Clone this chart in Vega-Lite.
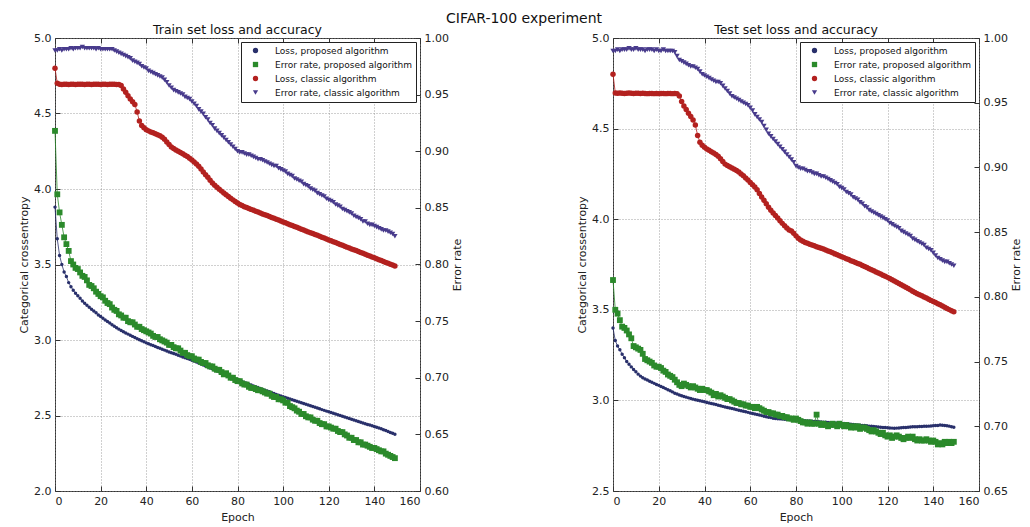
{
"$schema": "https://vega.github.io/schema/vega-lite/v6.json",
"autosize": {"type": "pad"},
"padding": {"left": 18, "top": 12, "right": 0, "bottom": 0},
"background": "white",
"title": {"text": "CIFAR-100 experiment", "fontSize": 14, "fontWeight": "normal", "anchor": "middle", "offset": -3, "dx": 4, "color": "#111"},
"config": {
  "font": "DejaVu Sans",
  "view": {"stroke": "#333", "strokeWidth": 1},
  "axis": {"domain": false, "tickSize": -5, "tickColor": "#333", "labelFontSize": 11, "labelColor": "#222", "titleFontSize": 11, "titleFontWeight": "normal", "titleColor": "#222", "gridColor": "#888", "gridDash": [1, 2], "gridWidth": 0.8, "labelPadding": 9},
  "title": {"fontSize": 12.5, "fontWeight": "normal", "offset": -4, "color": "#111"},
  "legend": {"orient": "top-right", "offset": 4, "padding": 4, "strokeColor": "#222", "fillColor": "white", "labelFontSize": 9, "rowPadding": 4, "symbolSize": 28, "symbolStrokeWidth": 0, "labelLimit": 300, "cornerRadius": 0, "labelColor": "#111", "symbolOffset": 6, "labelOffset": 15}
},
"datasets": {
"train": [
{"t":0,"lp":3.88,"ep":0.918,"lc":4.80,"ec":0.989},
{"t":1,"lp":3.67,"ep":0.862,"lc":4.70,"ec":0.989},
{"t":2,"lp":3.56,"ep":0.846,"lc":4.694,"ec":0.990},
{"t":3,"lp":3.50,"ep":0.835,"lc":4.692,"ec":0.989},
{"t":4,"lp":3.45,"ep":0.824,"lc":4.693,"ec":0.990},
{"t":5,"lp":3.42,"ep":0.818,"lc":4.693,"ec":0.990},
{"t":6,"lp":3.38,"ep":0.812,"lc":4.692,"ec":0.990},
{"t":7,"lp":3.353,"ep":0.803,"lc":4.694,"ec":0.991},
{"t":8,"lp":3.33,"ep":0.800,"lc":4.693,"ec":0.990},
{"t":9,"lp":3.31,"ep":0.797,"lc":4.692,"ec":0.991},
{"t":10,"lp":3.293,"ep":0.796,"lc":4.693,"ec":0.991},
{"t":11,"lp":3.277,"ep":0.793,"lc":4.693,"ec":0.991},
{"t":12,"lp":3.258,"ep":0.790,"lc":4.694,"ec":0.992},
{"t":13,"lp":3.243,"ep":0.789,"lc":4.692,"ec":0.991},
{"t":14,"lp":3.230,"ep":0.786,"lc":4.693,"ec":0.991},
{"t":15,"lp":3.217,"ep":0.782,"lc":4.693,"ec":0.991},
{"t":16,"lp":3.204,"ep":0.781,"lc":4.692,"ec":0.991},
{"t":17,"lp":3.192,"ep":0.779,"lc":4.693,"ec":0.991},
{"t":18,"lp":3.180,"ep":0.776,"lc":4.694,"ec":0.990},
{"t":19,"lp":3.166,"ep":0.774,"lc":4.693,"ec":0.991},
{"t":20,"lp":3.155,"ep":0.772,"lc":4.692,"ec":0.990},
{"t":21,"lp":3.144,"ep":0.771,"lc":4.693,"ec":0.990},
{"t":22,"lp":3.133,"ep":0.768,"lc":4.693,"ec":0.990},
{"t":23,"lp":3.122,"ep":0.766,"lc":4.692,"ec":0.990},
{"t":24,"lp":3.112,"ep":0.765,"lc":4.693,"ec":0.990},
{"t":25,"lp":3.101,"ep":0.762,"lc":4.694,"ec":0.990},
{"t":26,"lp":3.091,"ep":0.760,"lc":4.693,"ec":0.989},
{"t":27,"lp":3.081,"ep":0.759,"lc":4.692,"ec":0.988},
{"t":28,"lp":3.072,"ep":0.756,"lc":4.692,"ec":0.987},
{"t":29,"lp":3.063,"ep":0.755,"lc":4.685,"ec":0.986},
{"t":30,"lp":3.055,"ep":0.753,"lc":4.662,"ec":0.985},
{"t":31,"lp":3.047,"ep":0.753,"lc":4.640,"ec":0.984},
{"t":32,"lp":3.039,"ep":0.750,"lc":4.618,"ec":0.983},
{"t":33,"lp":3.031,"ep":0.749,"lc":4.596,"ec":0.982},
{"t":34,"lp":3.024,"ep":0.749,"lc":4.578,"ec":0.980},
{"t":35,"lp":3.016,"ep":0.747,"lc":4.560,"ec":0.979},
{"t":36,"lp":3.009,"ep":0.745,"lc":4.510,"ec":0.978},
{"t":37,"lp":3.002,"ep":0.745,"lc":4.450,"ec":0.977},
{"t":38,"lp":2.995,"ep":0.743,"lc":4.420,"ec":0.975},
{"t":39,"lp":2.988,"ep":0.742,"lc":4.405,"ec":0.974},
{"t":40,"lp":2.981,"ep":0.741,"lc":4.393,"ec":0.973},
{"t":41,"lp":2.975,"ep":0.740,"lc":4.385,"ec":0.971},
{"t":42,"lp":2.969,"ep":0.739,"lc":4.378,"ec":0.970},
{"t":43,"lp":2.963,"ep":0.737,"lc":4.372,"ec":0.969},
{"t":44,"lp":2.957,"ep":0.736,"lc":4.366,"ec":0.968},
{"t":45,"lp":2.951,"ep":0.736,"lc":4.360,"ec":0.967},
{"t":46,"lp":2.945,"ep":0.734,"lc":4.352,"ec":0.966},
{"t":47,"lp":2.939,"ep":0.733,"lc":4.342,"ec":0.965},
{"t":48,"lp":2.933,"ep":0.732,"lc":4.330,"ec":0.963},
{"t":49,"lp":2.927,"ep":0.731,"lc":4.312,"ec":0.961},
{"t":50,"lp":2.921,"ep":0.729,"lc":4.294,"ec":0.958},
{"t":51,"lp":2.916,"ep":0.729,"lc":4.278,"ec":0.956},
{"t":52,"lp":2.910,"ep":0.727,"lc":4.268,"ec":0.954},
{"t":53,"lp":2.905,"ep":0.726,"lc":4.259,"ec":0.953},
{"t":54,"lp":2.899,"ep":0.726,"lc":4.250,"ec":0.952},
{"t":55,"lp":2.894,"ep":0.724,"lc":4.242,"ec":0.951},
{"t":56,"lp":2.888,"ep":0.722,"lc":4.233,"ec":0.950},
{"t":57,"lp":2.883,"ep":0.722,"lc":4.224,"ec":0.948},
{"t":58,"lp":2.877,"ep":0.720,"lc":4.215,"ec":0.947},
{"t":59,"lp":2.872,"ep":0.719,"lc":4.204,"ec":0.946},
{"t":60,"lp":2.866,"ep":0.719,"lc":4.192,"ec":0.944},
{"t":61,"lp":2.860,"ep":0.717,"lc":4.179,"ec":0.942},
{"t":62,"lp":2.854,"ep":0.716,"lc":4.165,"ec":0.940},
{"t":63,"lp":2.848,"ep":0.716,"lc":4.150,"ec":0.937},
{"t":64,"lp":2.841,"ep":0.714,"lc":4.132,"ec":0.935},
{"t":65,"lp":2.835,"ep":0.713,"lc":4.113,"ec":0.933},
{"t":66,"lp":2.828,"ep":0.713,"lc":4.095,"ec":0.930},
{"t":67,"lp":2.822,"ep":0.711,"lc":4.078,"ec":0.928},
{"t":68,"lp":2.815,"ep":0.710,"lc":4.058,"ec":0.925},
{"t":69,"lp":2.809,"ep":0.710,"lc":4.040,"ec":0.923},
{"t":70,"lp":2.802,"ep":0.708,"lc":4.025,"ec":0.920},
{"t":71,"lp":2.796,"ep":0.707,"lc":4.011,"ec":0.918},
{"t":72,"lp":2.789,"ep":0.707,"lc":3.998,"ec":0.916},
{"t":73,"lp":2.783,"ep":0.705,"lc":3.986,"ec":0.914},
{"t":74,"lp":2.776,"ep":0.703,"lc":3.974,"ec":0.912},
{"t":75,"lp":2.770,"ep":0.704,"lc":3.962,"ec":0.910},
{"t":76,"lp":2.763,"ep":0.702,"lc":3.950,"ec":0.908},
{"t":77,"lp":2.757,"ep":0.700,"lc":3.939,"ec":0.906},
{"t":78,"lp":2.750,"ep":0.700,"lc":3.928,"ec":0.904},
{"t":79,"lp":2.744,"ep":0.698,"lc":3.917,"ec":0.902},
{"t":80,"lp":2.737,"ep":0.697,"lc":3.907,"ec":0.900},
{"t":81,"lp":2.731,"ep":0.697,"lc":3.898,"ec":0.899},
{"t":82,"lp":2.725,"ep":0.695,"lc":3.890,"ec":0.899},
{"t":83,"lp":2.719,"ep":0.694,"lc":3.883,"ec":0.898},
{"t":84,"lp":2.713,"ep":0.694,"lc":3.877,"ec":0.897},
{"t":85,"lp":2.707,"ep":0.692,"lc":3.871,"ec":0.897},
{"t":86,"lp":2.702,"ep":0.691,"lc":3.865,"ec":0.896},
{"t":87,"lp":2.696,"ep":0.691,"lc":3.859,"ec":0.895},
{"t":88,"lp":2.690,"ep":0.690,"lc":3.853,"ec":0.894},
{"t":89,"lp":2.685,"ep":0.689,"lc":3.847,"ec":0.893},
{"t":90,"lp":2.679,"ep":0.689,"lc":3.841,"ec":0.893},
{"t":91,"lp":2.673,"ep":0.688,"lc":3.835,"ec":0.892},
{"t":92,"lp":2.668,"ep":0.687,"lc":3.829,"ec":0.891},
{"t":93,"lp":2.662,"ep":0.686,"lc":3.824,"ec":0.890},
{"t":94,"lp":2.657,"ep":0.686,"lc":3.818,"ec":0.889},
{"t":95,"lp":2.651,"ep":0.684,"lc":3.812,"ec":0.888},
{"t":96,"lp":2.646,"ep":0.683,"lc":3.806,"ec":0.887},
{"t":97,"lp":2.640,"ep":0.683,"lc":3.800,"ec":0.887},
{"t":98,"lp":2.635,"ep":0.681,"lc":3.794,"ec":0.885},
{"t":99,"lp":2.629,"ep":0.681,"lc":3.788,"ec":0.884},
{"t":100,"lp":2.624,"ep":0.680,"lc":3.782,"ec":0.883},
{"t":101,"lp":2.619,"ep":0.678,"lc":3.776,"ec":0.882},
{"t":102,"lp":2.614,"ep":0.678,"lc":3.770,"ec":0.880},
{"t":103,"lp":2.609,"ep":0.675,"lc":3.764,"ec":0.879},
{"t":104,"lp":2.604,"ep":0.674,"lc":3.758,"ec":0.878},
{"t":105,"lp":2.599,"ep":0.673,"lc":3.752,"ec":0.876},
{"t":106,"lp":2.594,"ep":0.671,"lc":3.746,"ec":0.875},
{"t":107,"lp":2.589,"ep":0.670,"lc":3.740,"ec":0.874},
{"t":108,"lp":2.584,"ep":0.668,"lc":3.734,"ec":0.873},
{"t":109,"lp":2.579,"ep":0.668,"lc":3.728,"ec":0.871},
{"t":110,"lp":2.574,"ep":0.666,"lc":3.722,"ec":0.870},
{"t":111,"lp":2.569,"ep":0.665,"lc":3.716,"ec":0.869},
{"t":112,"lp":2.564,"ep":0.665,"lc":3.710,"ec":0.867},
{"t":113,"lp":2.559,"ep":0.663,"lc":3.705,"ec":0.866},
{"t":114,"lp":2.554,"ep":0.662,"lc":3.699,"ec":0.865},
{"t":115,"lp":2.549,"ep":0.662,"lc":3.693,"ec":0.863},
{"t":116,"lp":2.544,"ep":0.660,"lc":3.687,"ec":0.862},
{"t":117,"lp":2.539,"ep":0.659,"lc":3.681,"ec":0.861},
{"t":118,"lp":2.534,"ep":0.659,"lc":3.675,"ec":0.860},
{"t":119,"lp":2.529,"ep":0.657,"lc":3.669,"ec":0.858},
{"t":120,"lp":2.525,"ep":0.657,"lc":3.663,"ec":0.857},
{"t":121,"lp":2.520,"ep":0.656,"lc":3.657,"ec":0.856},
{"t":122,"lp":2.515,"ep":0.655,"lc":3.651,"ec":0.855},
{"t":123,"lp":2.510,"ep":0.655,"lc":3.645,"ec":0.853},
{"t":124,"lp":2.505,"ep":0.653,"lc":3.639,"ec":0.852},
{"t":125,"lp":2.500,"ep":0.652,"lc":3.633,"ec":0.851},
{"t":126,"lp":2.495,"ep":0.652,"lc":3.627,"ec":0.849},
{"t":127,"lp":2.490,"ep":0.650,"lc":3.621,"ec":0.848},
{"t":128,"lp":2.485,"ep":0.649,"lc":3.615,"ec":0.847},
{"t":129,"lp":2.480,"ep":0.647,"lc":3.609,"ec":0.846},
{"t":130,"lp":2.475,"ep":0.647,"lc":3.603,"ec":0.845},
{"t":131,"lp":2.470,"ep":0.645,"lc":3.597,"ec":0.843},
{"t":132,"lp":2.465,"ep":0.645,"lc":3.592,"ec":0.842},
{"t":133,"lp":2.460,"ep":0.643,"lc":3.586,"ec":0.841},
{"t":134,"lp":2.455,"ep":0.643,"lc":3.580,"ec":0.840},
{"t":135,"lp":2.450,"ep":0.641,"lc":3.574,"ec":0.838},
{"t":136,"lp":2.445,"ep":0.641,"lc":3.568,"ec":0.838},
{"t":137,"lp":2.441,"ep":0.640,"lc":3.562,"ec":0.836},
{"t":138,"lp":2.437,"ep":0.639,"lc":3.556,"ec":0.835},
{"t":139,"lp":2.432,"ep":0.638,"lc":3.550,"ec":0.835},
{"t":140,"lp":2.427,"ep":0.638,"lc":3.544,"ec":0.834},
{"t":141,"lp":2.422,"ep":0.637,"lc":3.538,"ec":0.833},
{"t":142,"lp":2.417,"ep":0.636,"lc":3.532,"ec":0.832},
{"t":143,"lp":2.412,"ep":0.635,"lc":3.526,"ec":0.831},
{"t":144,"lp":2.406,"ep":0.635,"lc":3.520,"ec":0.830},
{"t":145,"lp":2.400,"ep":0.633,"lc":3.514,"ec":0.830},
{"t":146,"lp":2.394,"ep":0.632,"lc":3.508,"ec":0.829},
{"t":147,"lp":2.388,"ep":0.631,"lc":3.502,"ec":0.828},
{"t":148,"lp":2.382,"ep":0.630,"lc":3.496,"ec":0.827},
{"t":149,"lp":2.376,"ep":0.629,"lc":3.490,"ec":0.825}
],
"test": [
{"t":0,"lp":3.400,"ep":0.813,"lc":4.80,"ec":0.990},
{"t":1,"lp":3.330,"ep":0.790,"lc":4.697,"ec":0.990},
{"t":2,"lp":3.300,"ep":0.787,"lc":4.695,"ec":0.991},
{"t":3,"lp":3.280,"ep":0.782,"lc":4.696,"ec":0.990},
{"t":4,"lp":3.255,"ep":0.777,"lc":4.695,"ec":0.991},
{"t":5,"lp":3.235,"ep":0.776,"lc":4.694,"ec":0.991},
{"t":6,"lp":3.215,"ep":0.774,"lc":4.695,"ec":0.991},
{"t":7,"lp":3.200,"ep":0.771,"lc":4.696,"ec":0.992},
{"t":8,"lp":3.185,"ep":0.768,"lc":4.695,"ec":0.991},
{"t":9,"lp":3.170,"ep":0.762,"lc":4.694,"ec":0.991},
{"t":10,"lp":3.158,"ep":0.761,"lc":4.695,"ec":0.992},
{"t":11,"lp":3.145,"ep":0.760,"lc":4.695,"ec":0.991},
{"t":12,"lp":3.134,"ep":0.759,"lc":4.694,"ec":0.991},
{"t":13,"lp":3.125,"ep":0.756,"lc":4.695,"ec":0.991},
{"t":14,"lp":3.118,"ep":0.752,"lc":4.694,"ec":0.990},
{"t":15,"lp":3.112,"ep":0.751,"lc":4.693,"ec":0.991},
{"t":16,"lp":3.106,"ep":0.750,"lc":4.694,"ec":0.991},
{"t":17,"lp":3.100,"ep":0.749,"lc":4.694,"ec":0.991},
{"t":18,"lp":3.094,"ep":0.747,"lc":4.693,"ec":0.990},
{"t":19,"lp":3.088,"ep":0.746,"lc":4.694,"ec":0.991},
{"t":20,"lp":3.083,"ep":0.746,"lc":4.693,"ec":0.990},
{"t":21,"lp":3.077,"ep":0.745,"lc":4.694,"ec":0.990},
{"t":22,"lp":3.071,"ep":0.743,"lc":4.694,"ec":0.991},
{"t":23,"lp":3.065,"ep":0.742,"lc":4.693,"ec":0.990},
{"t":24,"lp":3.059,"ep":0.740,"lc":4.694,"ec":0.990},
{"t":25,"lp":3.053,"ep":0.739,"lc":4.694,"ec":0.990},
{"t":26,"lp":3.047,"ep":0.738,"lc":4.693,"ec":0.990},
{"t":27,"lp":3.040,"ep":0.736,"lc":4.694,"ec":0.989},
{"t":28,"lp":3.035,"ep":0.734,"lc":4.693,"ec":0.986},
{"t":29,"lp":3.030,"ep":0.732,"lc":4.680,"ec":0.983},
{"t":30,"lp":3.026,"ep":0.731,"lc":4.650,"ec":0.982},
{"t":31,"lp":3.022,"ep":0.733,"lc":4.625,"ec":0.981},
{"t":32,"lp":3.018,"ep":0.732,"lc":4.605,"ec":0.980},
{"t":33,"lp":3.014,"ep":0.731,"lc":4.585,"ec":0.979},
{"t":34,"lp":3.010,"ep":0.730,"lc":4.567,"ec":0.978},
{"t":35,"lp":3.007,"ep":0.731,"lc":4.548,"ec":0.978},
{"t":36,"lp":3.004,"ep":0.730,"lc":4.520,"ec":0.977},
{"t":37,"lp":3.001,"ep":0.729,"lc":4.462,"ec":0.976},
{"t":38,"lp":2.998,"ep":0.728,"lc":4.425,"ec":0.974},
{"t":39,"lp":2.995,"ep":0.729,"lc":4.408,"ec":0.972},
{"t":40,"lp":2.992,"ep":0.728,"lc":4.397,"ec":0.971},
{"t":41,"lp":2.989,"ep":0.728,"lc":4.388,"ec":0.970},
{"t":42,"lp":2.986,"ep":0.727,"lc":4.380,"ec":0.969},
{"t":43,"lp":2.983,"ep":0.726,"lc":4.372,"ec":0.968},
{"t":44,"lp":2.980,"ep":0.724,"lc":4.365,"ec":0.967},
{"t":45,"lp":2.977,"ep":0.725,"lc":4.357,"ec":0.966},
{"t":46,"lp":2.973,"ep":0.723,"lc":4.347,"ec":0.966},
{"t":47,"lp":2.970,"ep":0.724,"lc":4.334,"ec":0.965},
{"t":48,"lp":2.967,"ep":0.723,"lc":4.318,"ec":0.963},
{"t":49,"lp":2.964,"ep":0.722,"lc":4.304,"ec":0.961},
{"t":50,"lp":2.961,"ep":0.721,"lc":4.296,"ec":0.959},
{"t":51,"lp":2.958,"ep":0.721,"lc":4.290,"ec":0.957},
{"t":52,"lp":2.955,"ep":0.720,"lc":4.283,"ec":0.955},
{"t":53,"lp":2.952,"ep":0.719,"lc":4.276,"ec":0.954},
{"t":54,"lp":2.949,"ep":0.718,"lc":4.269,"ec":0.953},
{"t":55,"lp":2.946,"ep":0.718,"lc":4.260,"ec":0.952},
{"t":56,"lp":2.943,"ep":0.717,"lc":4.250,"ec":0.951},
{"t":57,"lp":2.940,"ep":0.717,"lc":4.240,"ec":0.950},
{"t":58,"lp":2.937,"ep":0.716,"lc":4.228,"ec":0.949},
{"t":59,"lp":2.934,"ep":0.716,"lc":4.216,"ec":0.948},
{"t":60,"lp":2.931,"ep":0.715,"lc":4.203,"ec":0.946},
{"t":61,"lp":2.928,"ep":0.715,"lc":4.190,"ec":0.944},
{"t":62,"lp":2.925,"ep":0.714,"lc":4.178,"ec":0.941},
{"t":63,"lp":2.922,"ep":0.715,"lc":4.162,"ec":0.939},
{"t":64,"lp":2.919,"ep":0.714,"lc":4.142,"ec":0.937},
{"t":65,"lp":2.916,"ep":0.713,"lc":4.122,"ec":0.935},
{"t":66,"lp":2.913,"ep":0.712,"lc":4.104,"ec":0.932},
{"t":67,"lp":2.910,"ep":0.711,"lc":4.085,"ec":0.929},
{"t":68,"lp":2.907,"ep":0.711,"lc":4.066,"ec":0.926},
{"t":69,"lp":2.905,"ep":0.710,"lc":4.049,"ec":0.924},
{"t":70,"lp":2.902,"ep":0.710,"lc":4.034,"ec":0.922},
{"t":71,"lp":2.900,"ep":0.709,"lc":4.020,"ec":0.920},
{"t":72,"lp":2.899,"ep":0.709,"lc":4.006,"ec":0.918},
{"t":73,"lp":2.898,"ep":0.708,"lc":3.991,"ec":0.916},
{"t":74,"lp":2.897,"ep":0.708,"lc":3.977,"ec":0.914},
{"t":75,"lp":2.896,"ep":0.707,"lc":3.964,"ec":0.912},
{"t":76,"lp":2.895,"ep":0.707,"lc":3.952,"ec":0.910},
{"t":77,"lp":2.894,"ep":0.706,"lc":3.941,"ec":0.908},
{"t":78,"lp":2.893,"ep":0.706,"lc":3.935,"ec":0.906},
{"t":79,"lp":2.893,"ep":0.705,"lc":3.922,"ec":0.904},
{"t":80,"lp":2.892,"ep":0.706,"lc":3.908,"ec":0.901},
{"t":81,"lp":2.891,"ep":0.705,"lc":3.895,"ec":0.900},
{"t":82,"lp":2.890,"ep":0.704,"lc":3.885,"ec":0.899},
{"t":83,"lp":2.889,"ep":0.703,"lc":3.878,"ec":0.899},
{"t":84,"lp":2.888,"ep":0.703,"lc":3.872,"ec":0.898},
{"t":85,"lp":2.887,"ep":0.702,"lc":3.867,"ec":0.897},
{"t":86,"lp":2.886,"ep":0.703,"lc":3.862,"ec":0.897},
{"t":87,"lp":2.885,"ep":0.702,"lc":3.857,"ec":0.896},
{"t":88,"lp":2.884,"ep":0.702,"lc":3.853,"ec":0.895},
{"t":89,"lp":2.883,"ep":0.709,"lc":3.848,"ec":0.895},
{"t":90,"lp":2.882,"ep":0.702,"lc":3.844,"ec":0.894},
{"t":91,"lp":2.881,"ep":0.701,"lc":3.840,"ec":0.893},
{"t":92,"lp":2.880,"ep":0.702,"lc":3.835,"ec":0.893},
{"t":93,"lp":2.879,"ep":0.701,"lc":3.830,"ec":0.892},
{"t":94,"lp":2.878,"ep":0.700,"lc":3.825,"ec":0.891},
{"t":95,"lp":2.877,"ep":0.701,"lc":3.820,"ec":0.890},
{"t":96,"lp":2.877,"ep":0.702,"lc":3.815,"ec":0.889},
{"t":97,"lp":2.876,"ep":0.701,"lc":3.809,"ec":0.888},
{"t":98,"lp":2.875,"ep":0.700,"lc":3.804,"ec":0.887},
{"t":99,"lp":2.874,"ep":0.702,"lc":3.798,"ec":0.885},
{"t":100,"lp":2.873,"ep":0.701,"lc":3.793,"ec":0.884},
{"t":101,"lp":2.872,"ep":0.700,"lc":3.788,"ec":0.883},
{"t":102,"lp":2.871,"ep":0.701,"lc":3.782,"ec":0.881},
{"t":103,"lp":2.870,"ep":0.700,"lc":3.777,"ec":0.880},
{"t":104,"lp":2.869,"ep":0.699,"lc":3.771,"ec":0.879},
{"t":105,"lp":2.867,"ep":0.700,"lc":3.766,"ec":0.877},
{"t":106,"lp":2.866,"ep":0.699,"lc":3.761,"ec":0.876},
{"t":107,"lp":2.865,"ep":0.700,"lc":3.756,"ec":0.875},
{"t":108,"lp":2.863,"ep":0.698,"lc":3.751,"ec":0.873},
{"t":109,"lp":2.862,"ep":0.699,"lc":3.745,"ec":0.872},
{"t":110,"lp":2.861,"ep":0.699,"lc":3.739,"ec":0.870},
{"t":111,"lp":2.860,"ep":0.698,"lc":3.733,"ec":0.869},
{"t":112,"lp":2.858,"ep":0.697,"lc":3.727,"ec":0.867},
{"t":113,"lp":2.857,"ep":0.696,"lc":3.721,"ec":0.866},
{"t":114,"lp":2.856,"ep":0.697,"lc":3.715,"ec":0.865},
{"t":115,"lp":2.855,"ep":0.696,"lc":3.709,"ec":0.864},
{"t":116,"lp":2.853,"ep":0.695,"lc":3.703,"ec":0.863},
{"t":117,"lp":2.852,"ep":0.694,"lc":3.697,"ec":0.862},
{"t":118,"lp":2.851,"ep":0.695,"lc":3.691,"ec":0.861},
{"t":119,"lp":2.850,"ep":0.693,"lc":3.685,"ec":0.860},
{"t":120,"lp":2.849,"ep":0.692,"lc":3.679,"ec":0.859},
{"t":121,"lp":2.848,"ep":0.693,"lc":3.673,"ec":0.857},
{"t":122,"lp":2.847,"ep":0.691,"lc":3.666,"ec":0.856},
{"t":123,"lp":2.846,"ep":0.692,"lc":3.659,"ec":0.855},
{"t":124,"lp":2.847,"ep":0.693,"lc":3.652,"ec":0.854},
{"t":125,"lp":2.848,"ep":0.692,"lc":3.645,"ec":0.853},
{"t":126,"lp":2.849,"ep":0.691,"lc":3.638,"ec":0.851},
{"t":127,"lp":2.850,"ep":0.690,"lc":3.631,"ec":0.850},
{"t":128,"lp":2.851,"ep":0.691,"lc":3.624,"ec":0.849},
{"t":129,"lp":2.852,"ep":0.692,"lc":3.617,"ec":0.848},
{"t":130,"lp":2.853,"ep":0.691,"lc":3.610,"ec":0.847},
{"t":131,"lp":2.854,"ep":0.692,"lc":3.603,"ec":0.845},
{"t":132,"lp":2.855,"ep":0.690,"lc":3.596,"ec":0.844},
{"t":133,"lp":2.855,"ep":0.689,"lc":3.589,"ec":0.843},
{"t":134,"lp":2.856,"ep":0.690,"lc":3.583,"ec":0.842},
{"t":135,"lp":2.856,"ep":0.689,"lc":3.577,"ec":0.841},
{"t":136,"lp":2.857,"ep":0.689,"lc":3.571,"ec":0.840},
{"t":137,"lp":2.857,"ep":0.690,"lc":3.565,"ec":0.838},
{"t":138,"lp":2.858,"ep":0.689,"lc":3.558,"ec":0.837},
{"t":139,"lp":2.859,"ep":0.688,"lc":3.552,"ec":0.836},
{"t":140,"lp":2.860,"ep":0.689,"lc":3.546,"ec":0.834},
{"t":141,"lp":2.861,"ep":0.688,"lc":3.540,"ec":0.832},
{"t":142,"lp":2.862,"ep":0.686,"lc":3.534,"ec":0.830},
{"t":143,"lp":2.864,"ep":0.687,"lc":3.528,"ec":0.829},
{"t":144,"lp":2.863,"ep":0.686,"lc":3.521,"ec":0.828},
{"t":145,"lp":2.862,"ep":0.688,"lc":3.514,"ec":0.827},
{"t":146,"lp":2.860,"ep":0.687,"lc":3.507,"ec":0.827},
{"t":147,"lp":2.858,"ep":0.688,"lc":3.501,"ec":0.826},
{"t":148,"lp":2.855,"ep":0.687,"lc":3.495,"ec":0.825},
{"t":149,"lp":2.852,"ep":0.688,"lc":3.489,"ec":0.824}
]
},
"spacing": 113,
"resolve": {"scale": {"x": "independent", "y": "independent", "color": "independent", "shape": "independent"}, "legend": {"color": "independent", "shape": "independent"}},
"hconcat": [
{
  "title": "Train set loss and accuracy",
  "width": 365, "height": 453,
  "data": {"name": "train"},
  "layer": [
    {
      "transform": [{"fold": ["lp", "lc"], "as": ["key", "v"]}],
      "encoding": {
        "x": {"field": "t", "type": "quantitative", "scale": {"domain": [0, 160], "nice": false}, "axis": {"values": [0, 20, 40, 60, 80, 100, 120, 140, 160], "title": "Epoch", "grid": true, "titlePadding": 5}},
        "y": {"field": "v", "type": "quantitative", "scale": {"domain": [2, 5], "nice": false, "zero": false}, "axis": {"values": [2, 2.5, 3, 3.5, 4, 4.5, 5], "format": ".1f", "title": "Categorical crossentropy", "grid": true, "titlePadding": 4}}
      },
      "layer": [
        {"transform": [{"filter": "datum.key == 'lp'"}], "mark": {"type": "line", "color": "#29306b", "strokeWidth": 0.8}, "encoding": {}},
        {"transform": [{"filter": "datum.key == 'lc'"}], "mark": {"type": "line", "color": "#b3211f", "strokeWidth": 0.8}, "encoding": {}},
        {"transform": [{"filter": "datum.key == 'lp'"}], "mark": {"type": "point", "filled": true, "opacity": 1, "size": 12},
         "encoding": {"color": {"field": "key", "type": "nominal", "scale": {"domain": ["lp", "ep", "lc", "ec"], "range": ["#29306b", "#2b8a2b", "#b3211f", "#483b8c"]}, "legend": {"title": null, "labelExpr": "datum.label == 'lp' ? 'Loss, proposed algorithm' : datum.label == 'ep' ? 'Error rate, proposed algorithm' : datum.label == 'lc' ? 'Loss, classic algorithm' : 'Error rate, classic algorithm'"}},
                      "shape": {"field": "key", "type": "nominal", "scale": {"domain": ["lp", "ep", "lc", "ec"], "range": ["circle", "square", "circle", "triangle-down"]}, "legend": {"title": null, "labelExpr": "datum.label == 'lp' ? 'Loss, proposed algorithm' : datum.label == 'ep' ? 'Error rate, proposed algorithm' : datum.label == 'lc' ? 'Loss, classic algorithm' : 'Error rate, classic algorithm'"}}}},
        {"transform": [{"filter": "datum.key == 'lc'"}], "mark": {"type": "point", "filled": true, "opacity": 1, "size": 30},
         "encoding": {"color": {"field": "key", "type": "nominal", "scale": {"domain": ["lp", "ep", "lc", "ec"], "range": ["#29306b", "#2b8a2b", "#b3211f", "#483b8c"]}, "legend": {"title": null, "labelExpr": "datum.label == 'lp' ? 'Loss, proposed algorithm' : datum.label == 'ep' ? 'Error rate, proposed algorithm' : datum.label == 'lc' ? 'Loss, classic algorithm' : 'Error rate, classic algorithm'"}},
                      "shape": {"field": "key", "type": "nominal", "scale": {"domain": ["lp", "ep", "lc", "ec"], "range": ["circle", "square", "circle", "triangle-down"]}, "legend": {"title": null, "labelExpr": "datum.label == 'lp' ? 'Loss, proposed algorithm' : datum.label == 'ep' ? 'Error rate, proposed algorithm' : datum.label == 'lc' ? 'Loss, classic algorithm' : 'Error rate, classic algorithm'"}}}}
      ]
    },
    {
      "transform": [{"fold": ["ep", "ec"], "as": ["key", "v"]}],
      "encoding": {
        "x": {"field": "t", "type": "quantitative", "scale": {"domain": [0, 160], "nice": false}, "axis": {"orient": "top", "values": [0, 20, 40, 60, 80, 100, 120, 140, 160], "labels": false, "title": null, "grid": false}},
        "y": {"field": "v", "type": "quantitative", "scale": {"domain": [0.6, 1.0], "nice": false, "zero": false}, "axis": {"orient": "right", "values": [0.6, 0.65, 0.7, 0.75, 0.8, 0.85, 0.9, 0.95, 1.0], "format": ".2f", "title": "Error rate", "grid": false, "titleAngle": 270, "titleBaseline": "top", "titlePadding": 3}}
      },
      "layer": [
        {"transform": [{"filter": "datum.key == 'ep'"}], "mark": {"type": "line", "color": "#2b8a2b", "strokeWidth": 0.8}, "encoding": {}},
        {"transform": [{"filter": "datum.key == 'ec'"}], "mark": {"type": "line", "color": "#483b8c", "strokeWidth": 0.8}, "encoding": {}},
        {"transform": [{"filter": "datum.key == 'ep'"}], "mark": {"type": "point", "filled": true, "opacity": 1, "size": 34},
         "encoding": {"color": {"field": "key", "type": "nominal", "scale": {"domain": ["lp", "ep", "lc", "ec"], "range": ["#29306b", "#2b8a2b", "#b3211f", "#483b8c"]}, "legend": {"title": null, "labelExpr": "datum.label == 'lp' ? 'Loss, proposed algorithm' : datum.label == 'ep' ? 'Error rate, proposed algorithm' : datum.label == 'lc' ? 'Loss, classic algorithm' : 'Error rate, classic algorithm'"}},
                      "shape": {"field": "key", "type": "nominal", "scale": {"domain": ["lp", "ep", "lc", "ec"], "range": ["circle", "square", "circle", "triangle-down"]}, "legend": {"title": null, "labelExpr": "datum.label == 'lp' ? 'Loss, proposed algorithm' : datum.label == 'ep' ? 'Error rate, proposed algorithm' : datum.label == 'lc' ? 'Loss, classic algorithm' : 'Error rate, classic algorithm'"}}}},
        {"transform": [{"filter": "datum.key == 'ec'"}], "mark": {"type": "point", "filled": true, "opacity": 1, "size": 28},
         "encoding": {"color": {"field": "key", "type": "nominal", "scale": {"domain": ["lp", "ep", "lc", "ec"], "range": ["#29306b", "#2b8a2b", "#b3211f", "#483b8c"]}, "legend": {"title": null, "labelExpr": "datum.label == 'lp' ? 'Loss, proposed algorithm' : datum.label == 'ep' ? 'Error rate, proposed algorithm' : datum.label == 'lc' ? 'Loss, classic algorithm' : 'Error rate, classic algorithm'"}},
                      "shape": {"field": "key", "type": "nominal", "scale": {"domain": ["lp", "ep", "lc", "ec"], "range": ["circle", "square", "circle", "triangle-down"]}, "legend": {"title": null, "labelExpr": "datum.label == 'lp' ? 'Loss, proposed algorithm' : datum.label == 'ep' ? 'Error rate, proposed algorithm' : datum.label == 'lc' ? 'Loss, classic algorithm' : 'Error rate, classic algorithm'"}}}}
      ]
    }
  ],
  "resolve": {"scale": {"y": "independent"}, "axis": {"x": "independent"}}
},
{
  "title": "Test set loss and accuracy",
  "width": 366, "height": 453,
  "data": {"name": "test"},
  "layer": [
    {
      "transform": [{"fold": ["lp", "lc"], "as": ["key", "v"]}],
      "encoding": {
        "x": {"field": "t", "type": "quantitative", "scale": {"domain": [0, 160], "nice": false}, "axis": {"values": [0, 20, 40, 60, 80, 100, 120, 140, 160], "title": "Epoch", "grid": true, "titlePadding": 5}},
        "y": {"field": "v", "type": "quantitative", "scale": {"domain": [2.5, 5], "nice": false, "zero": false}, "axis": {"values": [2.5, 3, 3.5, 4, 4.5, 5], "format": ".1f", "title": "Categorical crossentropy", "grid": true, "titlePadding": 4}}
      },
      "layer": [
        {"transform": [{"filter": "datum.key == 'lp'"}], "mark": {"type": "line", "color": "#29306b", "strokeWidth": 0.8}, "encoding": {}},
        {"transform": [{"filter": "datum.key == 'lc'"}], "mark": {"type": "line", "color": "#b3211f", "strokeWidth": 0.8}, "encoding": {}},
        {"transform": [{"filter": "datum.key == 'lp'"}], "mark": {"type": "point", "filled": true, "opacity": 1, "size": 12},
         "encoding": {"color": {"field": "key", "type": "nominal", "scale": {"domain": ["lp", "ep", "lc", "ec"], "range": ["#29306b", "#2b8a2b", "#b3211f", "#483b8c"]}, "legend": {"title": null, "labelExpr": "datum.label == 'lp' ? 'Loss, proposed algorithm' : datum.label == 'ep' ? 'Error rate, proposed algorithm' : datum.label == 'lc' ? 'Loss, classic algorithm' : 'Error rate, classic algorithm'"}},
                      "shape": {"field": "key", "type": "nominal", "scale": {"domain": ["lp", "ep", "lc", "ec"], "range": ["circle", "square", "circle", "triangle-down"]}, "legend": {"title": null, "labelExpr": "datum.label == 'lp' ? 'Loss, proposed algorithm' : datum.label == 'ep' ? 'Error rate, proposed algorithm' : datum.label == 'lc' ? 'Loss, classic algorithm' : 'Error rate, classic algorithm'"}}}},
        {"transform": [{"filter": "datum.key == 'lc'"}], "mark": {"type": "point", "filled": true, "opacity": 1, "size": 30},
         "encoding": {"color": {"field": "key", "type": "nominal", "scale": {"domain": ["lp", "ep", "lc", "ec"], "range": ["#29306b", "#2b8a2b", "#b3211f", "#483b8c"]}, "legend": {"title": null, "labelExpr": "datum.label == 'lp' ? 'Loss, proposed algorithm' : datum.label == 'ep' ? 'Error rate, proposed algorithm' : datum.label == 'lc' ? 'Loss, classic algorithm' : 'Error rate, classic algorithm'"}},
                      "shape": {"field": "key", "type": "nominal", "scale": {"domain": ["lp", "ep", "lc", "ec"], "range": ["circle", "square", "circle", "triangle-down"]}, "legend": {"title": null, "labelExpr": "datum.label == 'lp' ? 'Loss, proposed algorithm' : datum.label == 'ep' ? 'Error rate, proposed algorithm' : datum.label == 'lc' ? 'Loss, classic algorithm' : 'Error rate, classic algorithm'"}}}}
      ]
    },
    {
      "transform": [{"fold": ["ep", "ec"], "as": ["key", "v"]}],
      "encoding": {
        "x": {"field": "t", "type": "quantitative", "scale": {"domain": [0, 160], "nice": false}, "axis": {"orient": "top", "values": [0, 20, 40, 60, 80, 100, 120, 140, 160], "labels": false, "title": null, "grid": false}},
        "y": {"field": "v", "type": "quantitative", "scale": {"domain": [0.65, 1.0], "nice": false, "zero": false}, "axis": {"orient": "right", "values": [0.65, 0.7, 0.75, 0.8, 0.85, 0.9, 0.95, 1.0], "format": ".2f", "title": "Error rate", "grid": false, "titleAngle": 270, "titleBaseline": "top", "titlePadding": 3}}
      },
      "layer": [
        {"transform": [{"filter": "datum.key == 'ep'"}], "mark": {"type": "line", "color": "#2b8a2b", "strokeWidth": 0.8}, "encoding": {}},
        {"transform": [{"filter": "datum.key == 'ec'"}], "mark": {"type": "line", "color": "#483b8c", "strokeWidth": 0.8}, "encoding": {}},
        {"transform": [{"filter": "datum.key == 'ep'"}], "mark": {"type": "point", "filled": true, "opacity": 1, "size": 34},
         "encoding": {"color": {"field": "key", "type": "nominal", "scale": {"domain": ["lp", "ep", "lc", "ec"], "range": ["#29306b", "#2b8a2b", "#b3211f", "#483b8c"]}, "legend": {"title": null, "labelExpr": "datum.label == 'lp' ? 'Loss, proposed algorithm' : datum.label == 'ep' ? 'Error rate, proposed algorithm' : datum.label == 'lc' ? 'Loss, classic algorithm' : 'Error rate, classic algorithm'"}},
                      "shape": {"field": "key", "type": "nominal", "scale": {"domain": ["lp", "ep", "lc", "ec"], "range": ["circle", "square", "circle", "triangle-down"]}, "legend": {"title": null, "labelExpr": "datum.label == 'lp' ? 'Loss, proposed algorithm' : datum.label == 'ep' ? 'Error rate, proposed algorithm' : datum.label == 'lc' ? 'Loss, classic algorithm' : 'Error rate, classic algorithm'"}}}},
        {"transform": [{"filter": "datum.key == 'ec'"}], "mark": {"type": "point", "filled": true, "opacity": 1, "size": 28},
         "encoding": {"color": {"field": "key", "type": "nominal", "scale": {"domain": ["lp", "ep", "lc", "ec"], "range": ["#29306b", "#2b8a2b", "#b3211f", "#483b8c"]}, "legend": {"title": null, "labelExpr": "datum.label == 'lp' ? 'Loss, proposed algorithm' : datum.label == 'ep' ? 'Error rate, proposed algorithm' : datum.label == 'lc' ? 'Loss, classic algorithm' : 'Error rate, classic algorithm'"}},
                      "shape": {"field": "key", "type": "nominal", "scale": {"domain": ["lp", "ep", "lc", "ec"], "range": ["circle", "square", "circle", "triangle-down"]}, "legend": {"title": null, "labelExpr": "datum.label == 'lp' ? 'Loss, proposed algorithm' : datum.label == 'ep' ? 'Error rate, proposed algorithm' : datum.label == 'lc' ? 'Loss, classic algorithm' : 'Error rate, classic algorithm'"}}}}
      ]
    }
  ],
  "resolve": {"scale": {"y": "independent"}, "axis": {"x": "independent"}}
}
]
}
